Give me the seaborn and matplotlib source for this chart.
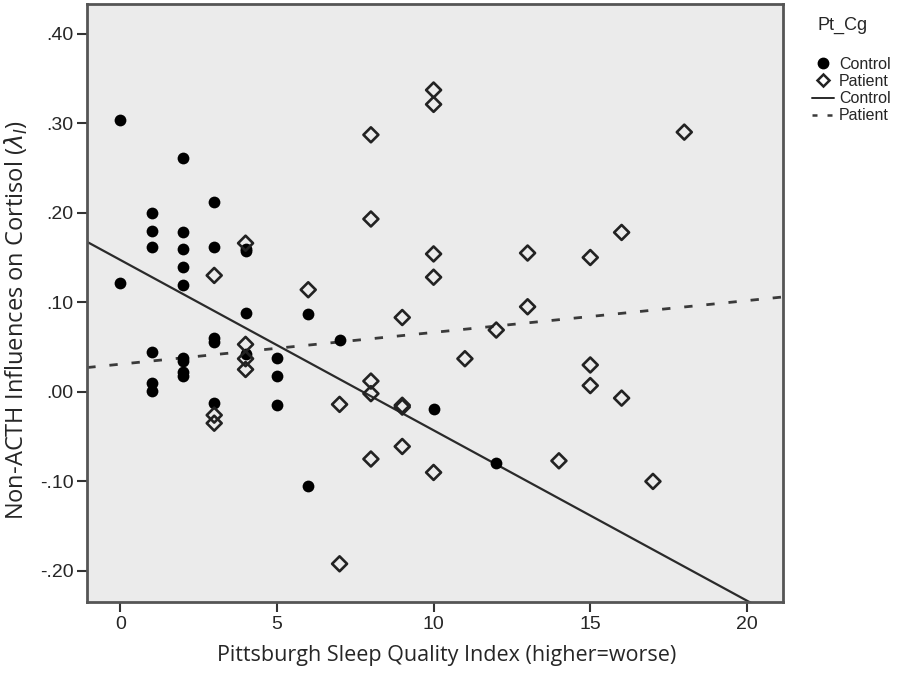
import pandas as pd
import seaborn as sns
import matplotlib.pyplot as plt
from matplotlib.lines import Line2D

# PSQI score and non-ACTH influence values
control_psqi = [0, 0,
                1, 1, 1, 1, 1, 1,
                2, 2, 2, 2, 2, 2, 2, 2, 2,
                3, 3, 3, 3, 3,
                4, 4, 4, 4,
                5, 5, 5,
                6, 6,
                7, 10, 12]
control_lambda = [0.303, 0.121,
                  0.200, 0.180, 0.162, 0.045, 0.010, 0.001,
                  0.261, 0.178, 0.160, 0.139, 0.119, 0.038, 0.034, 0.022, 0.018,
                  0.212, 0.162, 0.060, 0.056, -0.012,
                  0.160, 0.157, 0.088, 0.042,
                  0.038, 0.018, -0.015,
                  0.087, -0.105,
                  0.058, -0.019, -0.080]

patient_psqi = [3, 3, 3,
                4, 4, 4, 4,
                6,
                7, 7,
                8, 8, 8, 8, 8,
                9, 9, 9, 9,
                10, 10, 10, 10, 10,
                11, 12, 13, 13, 14,
                15, 15, 15,
                16, 16, 17, 18]
patient_lambda = [0.130, -0.026, -0.035,
                  0.166, 0.053, 0.037, 0.025,
                  0.114,
                  -0.014, -0.192,
                  0.287, 0.193, 0.012, -0.002, -0.075,
                  0.083, -0.015, -0.017, -0.061,
                  0.337, 0.321, 0.154, 0.128, -0.090,
                  0.037, 0.069, 0.155, 0.095, -0.077,
                  0.150, 0.030, 0.007,
                  0.178, -0.007, -0.100, 0.290]

x_ticks = [0, 5, 10, 15, 20]
y_ticks = [-0.20, -0.10, 0.00, 0.10, 0.20, 0.30, 0.40]
y_tick_labels = ['-.20', '-.10', '.00', '.10', '.20', '.30', '.40']

df = pd.DataFrame({
    'psqi': control_psqi + patient_psqi,
    'lam': control_lambda + patient_lambda,
    'Pt_Cg': ['Control'] * len(control_psqi) + ['Patient'] * len(patient_psqi),
})
ctrl = df[df['Pt_Cg'] == 'Control']
pat = df[df['Pt_Cg'] == 'Patient']

sns.set_style('white')
plt.rcParams['font.family'] = ['Liberation Sans', 'DejaVu Sans']

fig = plt.figure(figsize=(9, 6.76), dpi=100)
ax = fig.add_axes([0.097, 0.109, 0.773, 0.885])
ax.set_facecolor('#ebebeb')
ax.set_xlim(-1.05, 21.15)
ax.set_ylim(-0.235, 0.433)

# fit lines over the full x range
sns.regplot(data=ctrl, x='psqi', y='lam', ax=ax, scatter=False, ci=None,
            truncate=False, line_kws=dict(color='#2a2a2a', lw=1.6))
sns.regplot(data=pat, x='psqi', y='lam', ax=ax, scatter=False, ci=None,
            truncate=False, line_kws=dict(color='#3a3a3a', lw=2, dashes=(3, 5)))

sns.scatterplot(data=ctrl, x='psqi', y='lam', ax=ax, marker='o', color='black',
                s=72, edgecolor='black', linewidth=0, zorder=3)
sns.scatterplot(data=pat, x='psqi', y='lam', ax=ax, marker='D', color='#222222',
                s=58, linewidth=1.9, zorder=3)
ax.collections[-1].set_facecolor('none')
ax.collections[-1].set_edgecolor('#222222')

ax.set_xlim(-1.05, 21.15)
ax.set_ylim(-0.235, 0.433)
ax.set_xticks(x_ticks)
ax.set_yticks(y_ticks)
ax.set_yticklabels(y_tick_labels)
ax.tick_params(axis='both', direction='out', length=7, width=1.5, color='#333333',
               labelsize=14, left=True, bottom=True, pad=3)
for s in ax.spines.values():
    s.set_color('#555555')
    s.set_linewidth(2)

ax.set_xlabel('Pittsburgh Sleep Quality Index (higher=worse)', fontsize=15.5,
              family=['Open Sans', 'DejaVu Sans'])
ax.set_ylabel(r'Non-ACTH Influences on Cortisol ($\lambda_I$)', fontsize=17,
              family=['Open Sans', 'DejaVu Sans'])
ax.xaxis.set_label_coords(0.517, -0.072)
ax.yaxis.set_label_coords(-0.082, 0.472)

handles = [
    Line2D([], [], marker='o', color='black', ls='', markersize=7.5),
    Line2D([], [], marker='D', color='#222222', mfc='none', mew=1.8, ls='', markersize=6.5),
    Line2D([], [], color='#2a2a2a', lw=1.4),
    Line2D([], [], color='#3a3a3a', lw=1.8, dashes=(2, 4)),
]
fig.text(0.908, 0.963, 'Pt_Cg', fontsize=13, ha='left', va='center')
leg = fig.legend(handles, ['Control', 'Patient', 'Control', 'Patient'],
                 loc='upper left', bbox_to_anchor=(0.902, 0.916),
                 frameon=False, fontsize=11.5,
                 handlelength=1.4, handletextpad=0.3, labelspacing=0.14,
                 borderaxespad=0, borderpad=0)

fig.savefig('out.png', dpi=100)
